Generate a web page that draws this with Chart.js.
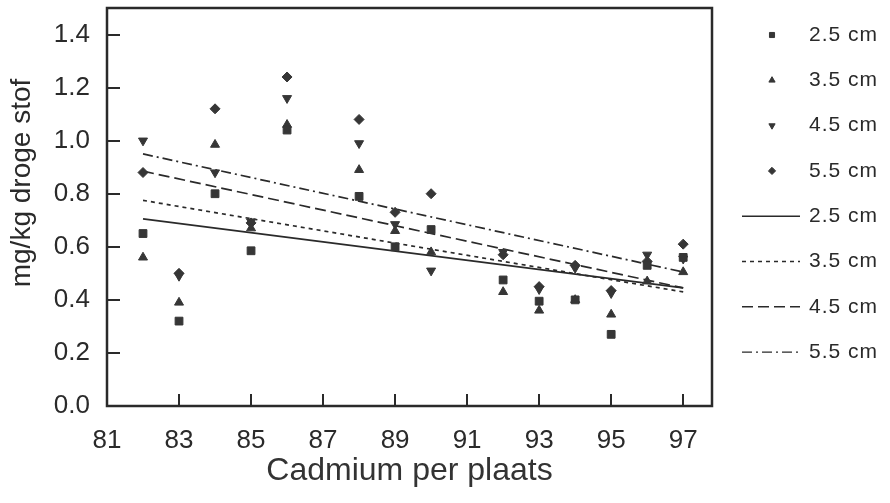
<!DOCTYPE html>
<html>
<head>
<meta charset="utf-8">
<script src="https://cdn.jsdelivr.net/npm/chart.js@4.4.0/dist/chart.umd.min.js"></script>
<style>
  html, body { margin: 0; padding: 0; background: #fff; }
  #wrap { width: 890px; height: 503px; }
</style>
</head>
<body>
<div id="wrap"><canvas id="chart" width="890" height="503"></canvas></div>
<script>
// meetpunten per plaats (cadmium), per diepte
const plaatsen = [82, 83, 84, 85, 86, 88, 89, 90, 92, 93, 94, 95, 96, 97];
const diepte25 = [0.65, 0.32, 0.80, 0.585, 1.04, 0.79, 0.60, 0.665, 0.475, 0.395, 0.40, 0.27, 0.53, 0.56];
const diepte35 = [0.56, 0.39, 0.985, 0.67, 1.06, 0.89, 0.66, 0.58, 0.43, 0.36, 0.40, 0.345, 0.47, 0.505];
const diepte45 = [1.00, 0.49, 0.88, 0.695, 1.16, 0.99, 0.685, 0.51, 0.58, 0.44, 0.52, 0.425, 0.57, 0.555];
const diepte55 = [0.88, 0.50, 1.12, 0.69, 1.24, 1.08, 0.73, 0.80, 0.57, 0.45, 0.53, 0.435, 0.545, 0.61];

// regressielijnen: begin- en eindwaarde
const lijnX = [82, 97];
const trend25 = [0.705, 0.445];
const trend35 = [0.775, 0.43];
const trend45 = [0.885, 0.445];
const trend55 = [0.95, 0.505];

const labels = ['2.5 cm', '3.5 cm', '4.5 cm', '5.5 cm'];
const xTicks = [81, 83, 85, 87, 89, 91, 93, 95, 97];
const yTicks = [0.0, 0.2, 0.4, 0.6, 0.8, 1.0, 1.2, 1.4];

const ink = '#2a2a2a';
const fontFam = '"Liberation Sans", Arial, sans-serif';

function punten(xs, ys) {
    return xs.map((x, i) => ({x: x, y: ys[i]}));
}

function puntSet(label, ys, style, rot, r) {
    return {
        label: label,
        data: punten(plaatsen, ys),
        pointStyle: style,
        pointRotation: rot,
        pointRadius: r,
        pointHoverRadius: r,
        backgroundColor: '#363636',
        borderColor: '#363636',
        borderWidth: 1,
        showLine: false
    };
}

function lijnSet(label, ys, dash) {
    return {
        label: label,
        data: punten(lijnX, ys),
        showLine: true,
        pointRadius: 0,
        borderColor: ink,
        borderWidth: 1.7,
        borderDash: dash,
        fill: false
    };
}

const datasets = [
    puntSet(labels[0], diepte25, 'rect', 0, 5.5),
    puntSet(labels[1], diepte35, 'triangle', 0, 5.2),
    puntSet(labels[2], diepte45, 'triangle', 180, 5.2),
    puntSet(labels[3], diepte55, 'rectRot', 0, 5),
    lijnSet(labels[0], trend25, []),
    lijnSet(labels[1], trend35, [4, 4]),
    lijnSet(labels[2], trend45, [11, 5]),
    lijnSet(labels[3], trend55, [10, 4, 2, 4])
];

// kader, tickstreepjes naar binnen, y-titel en legenda rechts
const extraPlugin = {
    id: 'extra',
    afterDraw(chart) {
        const ctx = chart.ctx;
        const a = chart.chartArea;
        const sx = chart.scales.x;
        const sy = chart.scales.y;
        ctx.save();
        ctx.strokeStyle = ink;
        ctx.lineWidth = 2.5;
        ctx.setLineDash([]);
        ctx.strokeRect(a.left, a.top, a.right - a.left, a.bottom - a.top);

        ctx.lineWidth = 2;
        ctx.beginPath();
        yTicks.slice(1).forEach(v => {
            const p = Math.round(sy.getPixelForValue(v));
            ctx.moveTo(a.left, p);
            ctx.lineTo(a.left + 13, p);
        });
        xTicks.slice(1).forEach(v => {
            const p = Math.round(sx.getPixelForValue(v));
            ctx.moveTo(p, a.bottom);
            ctx.lineTo(p, a.bottom - 12);
        });
        ctx.stroke();

        ctx.fillStyle = ink;
        ctx.font = '28px ' + fontFam;
        ctx.textAlign = 'center';
        ctx.textBaseline = 'middle';
        ctx.translate(22, a.top + 175);
        ctx.rotate(-Math.PI / 2);
        ctx.fillText('mg/kg droge stof', 0, 0);
        ctx.restore();

        ctx.save();
        ctx.font = '21px ' + fontFam;
        ctx.letterSpacing = '1px';
        ctx.textBaseline = 'middle';
        ctx.textAlign = 'left';
        chart.data.datasets.forEach((ds, i) => {
            const y = 35 + i * 45.3;
            const mx = a.right + 60;
            if (ds.showLine) {
                ctx.strokeStyle = ds.borderColor;
                ctx.lineWidth = 1.4;
                ctx.setLineDash(ds.borderDash);
                ctx.beginPath();
                ctx.moveTo(a.right + 30, y);
                ctx.lineTo(a.right + 88, y);
                ctx.stroke();
                ctx.setLineDash([]);
            } else {
                ctx.fillStyle = ds.backgroundColor;
                ctx.strokeStyle = ds.borderColor;
                ctx.lineWidth = 1;
                Chart.helpers.drawPoint(ctx, {
                    pointStyle: ds.pointStyle,
                    rotation: ds.pointRotation,
                    radius: 3.6,
                    borderWidth: 1
                }, mx, y);
            }
            ctx.fillStyle = ink;
            ctx.fillText(ds.label, a.right + 97, y);
        });
        ctx.restore();
    }
};

new Chart(document.getElementById('chart'), {
    type: 'scatter',
    data: { datasets: datasets },
    options: {
        responsive: false,
        animation: false,
        events: [],
        layout: { padding: { top: 8, right: 178, left: 0, bottom: 0 } },
        plugins: {
            legend: { display: false },
            tooltip: { enabled: false }
        },
        scales: {
            x: {
                type: 'linear',
                min: 81,
                max: 97.8,
                afterBuildTicks: s => { s.ticks = xTicks.map(v => ({value: v})); },
                afterFit: s => { s.height = 97; s.paddingLeft = 0; s.paddingRight = 0; },
                border: { display: false },
                grid: { display: false },
                ticks: {
                    padding: 11,
                    maxRotation: 0,
                    autoSkip: false,
                    color: ink,
                    font: { family: fontFam, size: 26 },
                    callback: v => String(v)
                },
                title: {
                    display: true,
                    text: 'Cadmium per plaats',
                    color: '#333',
                    font: { family: fontFam, size: 32 },
                    padding: { top: 0, bottom: 13 }
                }
            },
            y: {
                type: 'linear',
                min: 0,
                max: 1.5,
                afterBuildTicks: s => { s.ticks = yTicks.map(v => ({value: v})); },
                afterFit: s => { s.width = 107; s.paddingTop = 0; s.paddingBottom = 0; },
                border: { display: false },
                grid: { display: false },
                ticks: {
                    padding: 9,
                    autoSkip: false,
                    color: ink,
                    font: { family: fontFam, size: 26 },
                    callback: v => Number(v).toFixed(1)
                }
            }
        }
    },
    plugins: [extraPlugin]
});
</script>
</body>
</html>
